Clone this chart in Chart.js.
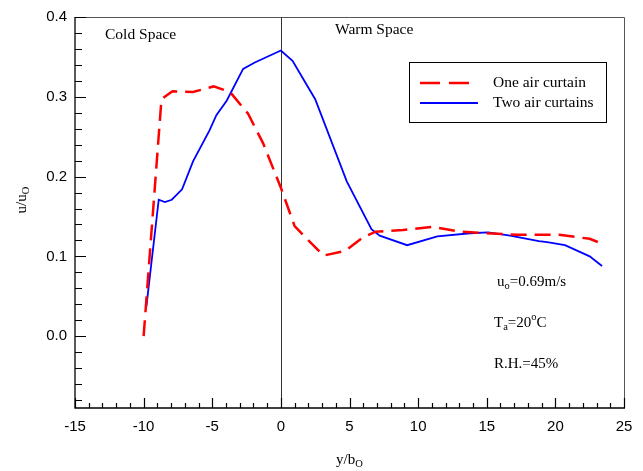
<!DOCTYPE html>
<html>
<head>
<meta charset="utf-8">
<script src="https://cdn.jsdelivr.net/npm/chart.js@4"></script>
<style>
  html, body { margin: 0; padding: 0; background: #fff; }
  #wrap { width: 643px; height: 471px; }
</style>
</head>
<body>
<div id="wrap"><canvas id="myChart" width="643" height="471"></canvas></div>
<script>
// one air curtain (red dashed)
const oneX = [-10.0, -8.7, -7.9, -6.4, -4.9, -3.7, -2.4, -1.3, 0.0, 1.0, 1.9, 3.1, 4.7, 6.0, 6.9, 8.9, 11.1, 13.05, 17.2, 20.3, 22.5, 23.1];
const oneY = [0.0, 0.297, 0.307, 0.306, 0.313, 0.306, 0.279, 0.242, 0.186, 0.138, 0.122, 0.101, 0.107, 0.124, 0.131, 0.133, 0.137, 0.131, 0.127, 0.127, 0.122, 0.118];
// two air curtains (blue solid)
const twoX = [-9.8, -8.9, -8.45, -7.95, -7.2, -6.4, -5.2, -4.7, -3.95, -2.75, -1.9, 0.0, 0.85, 2.5, 4.8, 6.6, 7.2, 9.2, 11.4, 13.8, 15.1, 16.7, 18.8, 19.4, 20.7, 22.5, 23.4];
const twoY = [0.037, 0.171, 0.168, 0.171, 0.184, 0.219, 0.258, 0.277, 0.295, 0.335, 0.343, 0.358, 0.345, 0.297, 0.194, 0.134, 0.126, 0.114, 0.125, 0.129, 0.130, 0.126, 0.119, 0.118, 0.114, 0.100, 0.088];

const xLabels = [-15, -10, -5, 0, 5, 10, 15, 20, 25];
const yLabels = [0.0, 0.1, 0.2, 0.3, 0.4];

const SERIF = '"Liberation Serif", "DejaVu Serif", serif';
const SANS = '"Liberation Sans", Arial, sans-serif';

function pts(xs, ys) { return xs.map((x, i) => ({ x: x, y: ys[i] })); }

// text made of normal / subscript / superscript parts
function richText(ctx, parts, x, y, size) {
  let cx = x;
  parts.forEach(p => {
    const s = p[1] === 'n' ? size : size * 0.7;
    const dy = p[1] === 'sub' ? size * 0.3 : (p[1] === 'sup' ? -size * 0.4 : 0);
    ctx.font = s + 'px ' + SERIF;
    ctx.fillText(p[0], cx, y + dy);
    cx += ctx.measureText(p[0]).width;
  });
  return cx - x;
}
function richWidth(ctx, parts, size) {
  let w = 0;
  parts.forEach(p => {
    ctx.font = (p[1] === 'n' ? size : size * 0.7) + 'px ' + SERIF;
    w += ctx.measureText(p[0]).width;
  });
  return w;
}

const framePlugin = {
  id: 'frame',
  beforeDatasetsDraw(chart) {
    const ctx = chart.ctx, a = chart.chartArea;
    const xs = chart.scales.x, ys = chart.scales.y;
    ctx.save();
    // top and right border
    ctx.strokeStyle = '#555';
    ctx.lineWidth = 1;
    ctx.beginPath();
    ctx.moveTo(a.left, a.top + 0.5); ctx.lineTo(a.right + 0.5, a.top + 0.5);
    ctx.lineTo(a.right + 0.5, a.bottom);
    ctx.stroke();
    // vertical line at 0
    const x0 = Math.round(xs.getPixelForValue(0)) + 0.5;
    ctx.strokeStyle = '#333';
    ctx.beginPath(); ctx.moveTo(x0, a.top); ctx.lineTo(x0, a.bottom); ctx.stroke();
    // left and bottom axis
    ctx.strokeStyle = '#000';
    ctx.lineWidth = 1.3;
    ctx.beginPath();
    ctx.moveTo(a.left, a.top); ctx.lineTo(a.left, a.bottom); ctx.lineTo(a.right + 1, a.bottom);
    ctx.stroke();
    // inward ticks
    ctx.lineWidth = 1.2;
    ctx.beginPath();
    for (let v = -15; v <= 25; v++) {
      const px = Math.round(xs.getPixelForValue(v)) + 0.5;
      const len = v % 5 === 0 ? 10 : 5;
      ctx.moveTo(px, a.bottom); ctx.lineTo(px, a.bottom - len);
    }
    for (let k = -4; k <= 20; k++) {
      const py = Math.round(ys.getPixelForValue(k * 0.02)) + 0.5;
      const len = k % 5 === 0 ? 11 : 7;
      ctx.moveTo(a.left, py); ctx.lineTo(a.left + len, py);
    }
    ctx.stroke();
    ctx.restore();
  },
  afterDraw(chart) {
    const ctx = chart.ctx;
    ctx.save();
    ctx.fillStyle = '#000';
    ctx.textBaseline = 'middle';
    ctx.textAlign = 'left';
    ctx.font = '15.5px ' + SERIF;
    ctx.fillText('Cold Space', 105, 35);
    ctx.fillText('Warm Space', 335, 30);

    // notes
    richText(ctx, [['u', 'n'], ['o', 'sub'], ['=0.69m/s', 'n']], 497, 282, 15);
    richText(ctx, [['T', 'n'], ['a', 'sub'], ['=20', 'n'], ['o', 'sup'], ['C', 'n']], 494, 323, 15);
    richText(ctx, [['R.H.=45%', 'n']], 494, 364, 15);

    // legend
    ctx.strokeStyle = '#000';
    ctx.lineWidth = 1;
    ctx.strokeRect(409.5, 62.5, 197, 60);
    const ds = chart.data.datasets;
    const rows = [83, 103];
    ds.forEach((d, i) => {
      ctx.strokeStyle = d.borderColor;
      ctx.lineWidth = d.borderWidth;
      ctx.setLineDash(i === 0 ? [20, 9] : []);
      ctx.beginPath();
      ctx.moveTo(420, rows[i]); ctx.lineTo(i === 0 ? 471 : 478, rows[i]);
      ctx.stroke();
      ctx.setLineDash([]);
      ctx.font = '15.5px ' + SERIF;
      ctx.fillStyle = '#000';
      ctx.fillText(d.label, 493, rows[i]);
    });

    // axis titles
    const xt = [['y/b', 'n'], ['O', 'sub']];
    richText(ctx, xt, 336, 460, 15);
    ctx.translate(22, 200);
    ctx.rotate(-Math.PI / 2);
    const yt = [['u/u', 'n'], ['O', 'sub']];
    const wy = richWidth(ctx, yt, 15);
    richText(ctx, yt, -wy / 2, 0, 15);
    ctx.restore();
  }
};

const ctx = document.getElementById('myChart');
new Chart(ctx, {
  type: 'line',
  data: {
    datasets: [
      {
        label: 'One air curtain',
        data: pts(oneX, oneY),
        borderColor: '#ff0000',
        borderWidth: 2.5,
        borderDash: [16, 8],
        pointRadius: 0,
        tension: 0,
        fill: false
      },
      {
        label: 'Two air curtains',
        data: pts(twoX, twoY),
        borderColor: '#0000ff',
        borderWidth: 1.8,
        pointRadius: 0,
        tension: 0,
        fill: false
      }
    ]
  },
  options: {
    responsive: false,
    animation: false,
    layout: { padding: { left: 0, top: 12, right: 19, bottom: 0 } },
    plugins: {
      legend: { display: false },
      tooltip: { enabled: false }
    },
    scales: {
      x: {
        type: 'linear',
        min: -15,
        max: 25,
        grid: { display: false, drawTicks: false },
        border: { display: false },
        afterBuildTicks: s => { s.ticks = xLabels.map(v => ({ value: v })); },
        afterFit: s => { s.height = 63; },
        ticks: {
          padding: 10,
          color: '#000',
          font: { family: SANS, size: 15 },
          callback: v => String(v)
        }
      },
      y: {
        min: -0.09,
        max: 0.4,
        grid: { display: false, drawTicks: false },
        border: { display: false },
        afterBuildTicks: s => { s.ticks = yLabels.map(v => ({ value: v })); },
        afterFit: s => { s.width = 75; },
        ticks: {
          padding: 8,
          color: '#000',
          font: { family: SANS, size: 15 },
          callback: v => Number(v).toFixed(1)
        }
      }
    }
  },
  plugins: [framePlugin]
});
</script>
</body>
</html>
